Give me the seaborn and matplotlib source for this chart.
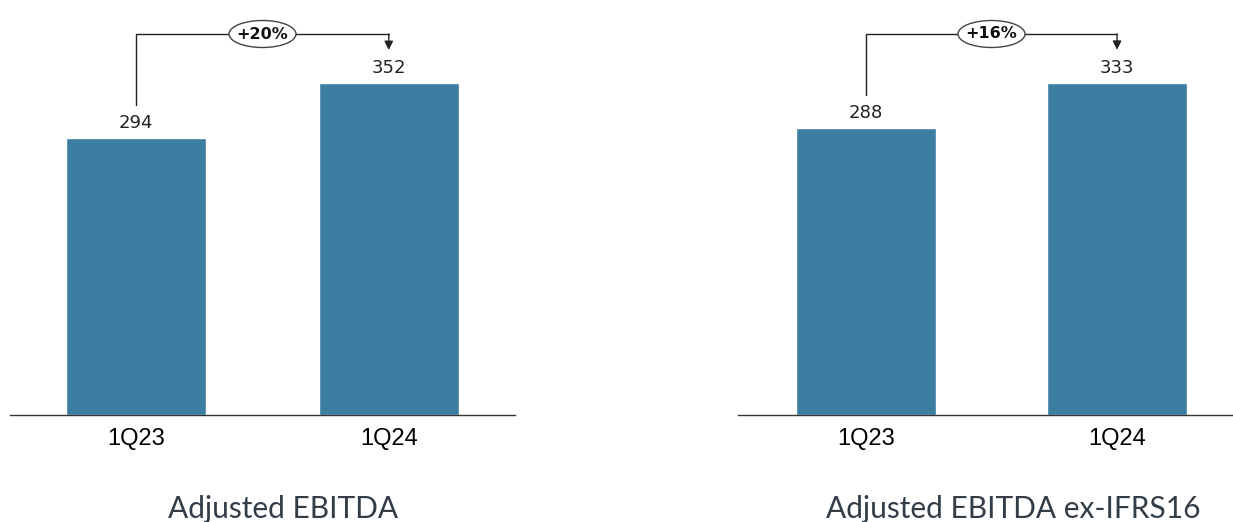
import matplotlib
matplotlib.use("Agg")
import matplotlib.pyplot as plt
import seaborn as sns
import pandas as pd
from matplotlib.patches import Ellipse

categories = ["1Q23", "1Q24"]
ebitda = [294, 352]
ebitda_ex = [288, 333]
growth_labels = ["+20%", "+16%"]
titles = ["Adjusted EBITDA", "Adjusted EBITDA ex-IFRS16"]

BAR = "#3c7da2"
sns.set_theme(style="white")
plt.rcParams["font.family"] = ["DejaVu Sans"]

W, H = 1233, 522
fig = plt.figure(figsize=(W / 100, H / 100), dpi=100)

# axes geometry in pixels: (left, right, top, baseline)
geoms = [(10, 515, 0, 415), (738, 1233, 0, 415)]
ylims = [440, 416]
xlims = [(-0.5, 1.5), (-0.51, 1.462)]
title_x = [283, 1013]

for i, (vals, gl, title) in enumerate(zip([ebitda, ebitda_ex], growth_labels, titles)):
    l, r, t, b = geoms[i]
    ax = fig.add_axes([l / W, 1 - b / H, (r - l) / W, (b - t) / H])
    df = pd.DataFrame({"cat": categories, "val": vals})
    sns.barplot(data=df, x="cat", y="val", color=BAR, saturation=1, width=0.556, ax=ax)
    ax.set_xlim(*xlims[i])
    ax.set_ylim(0, ylims[i])
    for s in ["top", "right", "left"]:
        ax.spines[s].set_visible(False)
    ax.spines["bottom"].set_color("#333333")
    ax.spines["bottom"].set_linewidth(1.0)
    ax.set_yticks([])
    ax.set_xlabel("")
    ax.set_ylabel("")
    ax.tick_params(axis="x", length=0, pad=9)
    for lab in ax.get_xticklabels():
        lab.set_fontfamily("Liberation Sans")
        lab.set_fontsize(17)
        lab.set_color("black")

    u = ylims[i] / (b - t)  # data units per pixel
    for x, v in enumerate(vals):
        ax.annotate(f"{v}", (x, v), xytext=(0, 4), textcoords="offset points",
                    ha="center", va="bottom", fontsize=13, color="#222222")

    # growth connector
    y_top = ylims[i] - 34 * u
    y0 = vals[0] + 33 * u
    y1 = vals[1] + 33 * u
    ax.plot([0, 0, 1], [y0, y_top, y_top], color="#222222", lw=1, clip_on=False)
    ax.annotate("", xy=(1, y1), xytext=(1, y_top),
                arrowprops=dict(arrowstyle="-|>", color="#222222", lw=1,
                                mutation_scale=13, shrinkA=0, shrinkB=0))
    # ellipse with label
    xc = 0.5
    ew = 67 / ((r - l) / (xlims[i][1] - xlims[i][0]))
    eh = 27 * u
    ax.add_patch(Ellipse((xc, y_top), ew, eh, facecolor="white", edgecolor="#444444",
                         lw=1, zorder=5, clip_on=False))
    ax.text(xc, y_top, gl, ha="center", va="center", fontsize=11.5, fontweight="bold",
            color="#111111", zorder=6)

    fig.text(title_x[i] / W, 1 - 509 / H, title, ha="center", va="center",
             fontsize=21.5, family="Lato", fontweight="normal", color="#333d47")

fig.savefig("out.png", dpi=100)
